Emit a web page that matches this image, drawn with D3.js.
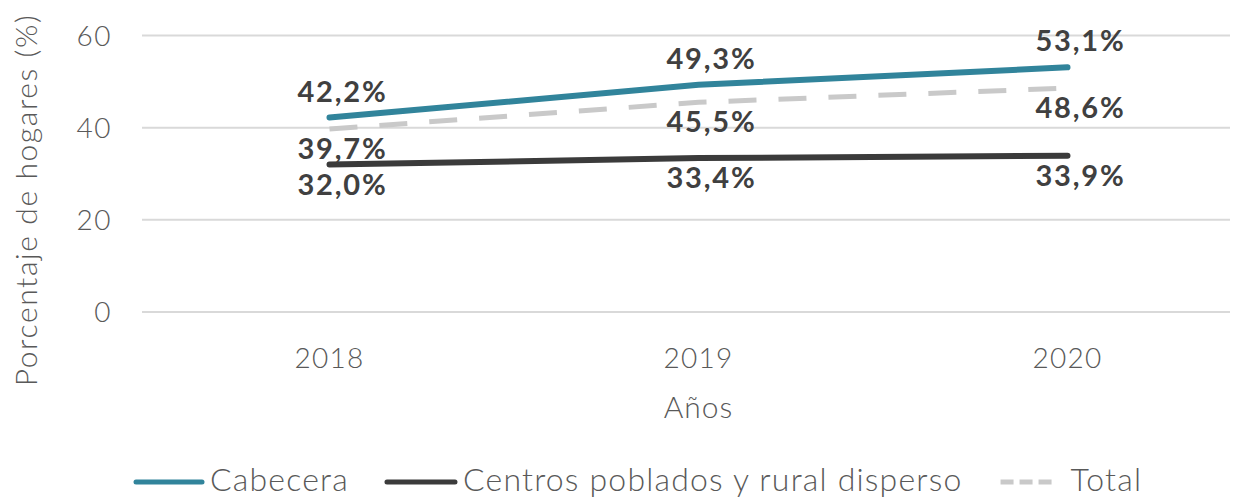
<!DOCTYPE html>
<html>
<head>
<meta charset="utf-8">
<script src="https://cdn.jsdelivr.net/npm/d3@7/dist/d3.min.js"></script>
<style>
  html, body { margin: 0; padding: 0; background: #ffffff; }
  svg { display: block; font-family: Lato, 'Open Sans', sans-serif; }
</style>
</head>
<body>
<div id="chart"></div>
<script>
// Hogares por zona, 2018-2020
const years = ['2018', '2019', '2020'];
const cabecera = [42.2, 49.3, 53.1];
const centros = [32.0, 33.4, 33.9];
const total = [39.7, 45.5, 48.6];
const yTicks = [0, 20, 40, 60];

const series = [
    { name: 'Cabecera', values: cabecera, color: '#31849b', width: 6, dash: null, labelPos: 'above' },
    { name: 'Centros poblados y rural disperso', values: centros, color: '#3b3b3b', width: 6, dash: null, labelPos: 'below' },
    { name: 'Total', values: total, color: '#c9c9c9', width: 5, dash: '28 22', labelPos: 'below' }
];

const width = 1243;
const height = 497;
const fmt = v => d3.format('.1f')(v).replace('.', ',') + '%';

const svg = d3.select('#chart')
    .append('svg')
    .attr('width', width)
    .attr('height', height);

const x = d3.scalePoint()
    .domain(years)
    .range([145, 1252])
    .padding(0.5);

const y = d3.scaleLinear()
    .domain([0, 60])
    .range([312, 35.5]);

// gridlines
svg.append('g')
    .selectAll('line')
    .data(yTicks)
    .join('line')
    .attr('x1', 142)
    .attr('x2', 1230)
    .attr('y1', d => y(d))
    .attr('y2', d => y(d))
    .attr('stroke', '#d9d9d9')
    .attr('stroke-width', 2);

// y tick labels
svg.append('g')
    .selectAll('text')
    .data(yTicks)
    .join('text')
    .attr('x', 112)
    .attr('y', d => y(d) + 10)
    .attr('text-anchor', 'end')
    .attr('fill', '#595959')
    .attr('font-size', '28px')
    .attr('font-weight', 300)
    .attr('letter-spacing', '1.5px')
    .text(d => d);

// x tick labels
svg.append('g')
    .selectAll('text')
    .data(years)
    .join('text')
    .attr('x', d => x(d))
    .attr('y', 368)
    .attr('text-anchor', 'middle')
    .attr('fill', '#595959')
    .attr('font-size', '28px')
    .attr('font-weight', 300)
    .attr('letter-spacing', '1.3px')
    .text(d => d);

// axis titles
svg.append('text')
    .attr('x', x('2019'))
    .attr('y', 418)
    .attr('text-anchor', 'middle')
    .attr('fill', '#595959')
    .attr('font-size', '30px')
    .attr('font-weight', 300)
    .attr('letter-spacing', '1px')
    .text('Años');

svg.append('text')
    .attr('transform', 'translate(37,200) rotate(-90)')
    .attr('text-anchor', 'middle')
    .attr('fill', '#595959')
    .attr('font-size', '30px')
    .attr('font-weight', 300)
    .attr('letter-spacing', '1.6px')
    .text('Porcentaje de hogares (%)');

// lines — draw total first so solid lines sit on top
const line = d3.line()
    .x((d, i) => x(years[i]))
    .y(d => y(d));

const drawOrder = [series[2], series[1], series[0]];
svg.append('g')
    .selectAll('path')
    .data(drawOrder)
    .join('path')
    .attr('d', d => line(d.values))
    .attr('fill', 'none')
    .attr('stroke', d => d.color)
    .attr('stroke-width', d => d.width)
    .attr('stroke-linecap', d => d.dash ? 'butt' : 'round')
    .attr('stroke-dasharray', d => d.dash);

// data labels
series.forEach(function(s) {
    svg.append('g')
        .selectAll('text')
        .data(s.values)
        .join('text')
        .attr('x', (d, i) => x(years[i]) + 13)
        .attr('y', d => y(d) + (s.labelPos === 'above' ? -16 : 30))
        .attr('text-anchor', 'middle')
        .attr('fill', '#404040')
        .attr('font-size', '29px')
        .attr('font-weight', 700)
        .attr('letter-spacing', '1.8px')
        .text(d => fmt(d));
});

// legend
const legend = svg.append('g').attr('class', 'legend');
const legendItems = [
    { s: series[0], len: 66, gap: 8 },
    { s: series[1], len: 68, gap: 8 },
    { s: series[2], len: 51, gap: 19, dash: '13 6' }
];
let lx = 136;
legendItems.forEach(function(item) {
    legend.append('line')
        .attr('x1', lx)
        .attr('x2', lx + item.len)
        .attr('y1', 482)
        .attr('y2', 482)
        .attr('stroke', item.s.color)
        .attr('stroke-width', 5)
        .attr('stroke-linecap', item.dash ? 'butt' : 'round')
        .attr('stroke-dasharray', item.dash || null);
    lx += item.len + item.gap;
    const t = legend.append('text')
        .attr('x', lx)
        .attr('y', 491)
        .attr('fill', '#595959')
        .attr('font-size', '32px')
        .attr('font-weight', 300)
        .attr('letter-spacing', '1.2px')
        .text(item.s.name);
    lx += t.node().getComputedTextLength() + 38;
});
</script>
</body>
</html>
